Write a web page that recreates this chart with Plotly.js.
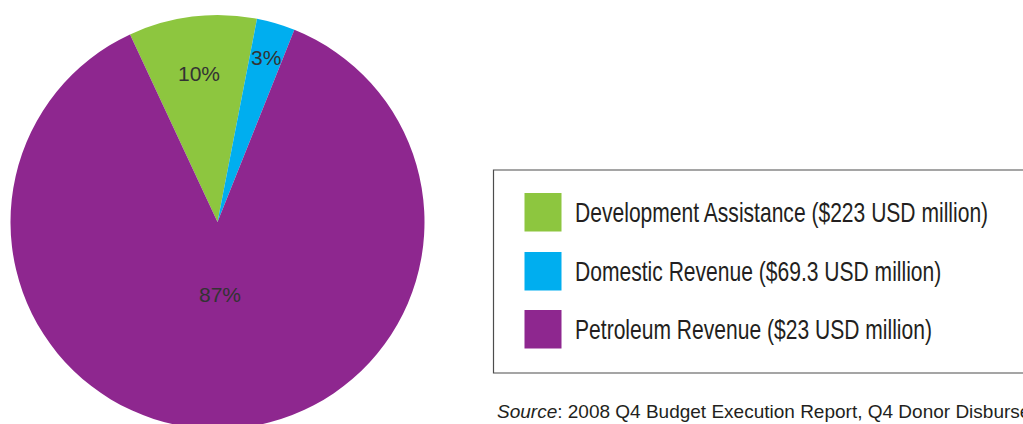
<!DOCTYPE html>
<html>
<head>
<meta charset="utf-8">
<script src="https://cdn.plot.ly/plotly-3.0.1.min.js"></script>
<style>
html,body{margin:0;padding:0;overflow:hidden;background:#fff;}
#chart{width:1023px;height:440px;}
</style>
</head>
<body>
<div id="chart"></div>
<script>
// ---- data ----
const sliceNames = ["Development Assistance", "Domestic Revenue", "Petroleum Revenue"];
const slicePercents = [10, 3, 87];
const legendLabels = [
  "Development Assistance ($223 USD million)",
  "Domestic Revenue ($69.3 USD million)",
  "Petroleum Revenue ($23 USD million)"
];
const sliceColors = ["#8dc63f", "#00aeef", "#8e278f"];
const sourceText = "<i>Source</i>: 2008 Q4 Budget Execution Report, Q4 Donor Disbursement Report";

// ---- layout constants (pixels) ----
const W = 1023, H = 440;
const px = x => x / W;
const py = y => (H - y) / H;
const FONT = "'Liberation Sans', Arial, sans-serif";
const PIE_CX = 217.5, PIE_CY = 222, PIE_R = 207, ROTATION = -25;
const labelRadiusFrac = [0.725, 0.83, 0.35];   // placement of each percent label
const CONDENSE = 0.78;                          // horizontal condensing of legend text

const trace = {
  type: "pie",
  labels: sliceNames,
  values: slicePercents,
  sort: false,
  direction: "clockwise",
  rotation: ROTATION,
  marker: {colors: sliceColors, line: {width: 0}},
  textinfo: "none",
  hoverinfo: "label+percent",
  showlegend: false,
  domain: {x: [px(PIE_CX - PIE_R), px(PIE_CX + PIE_R)], y: [py(PIE_CY + PIE_R), py(PIE_CY - PIE_R)]}
};

const shapes = [{
  type: "rect", xref: "paper", yref: "paper",
  x0: px(493.5), x1: px(1030), y0: py(373), y1: py(170),
  line: {color: "#4d4d4d", width: 1.2}, fillcolor: "rgba(0,0,0,0)"
}];
const annotations = [];

// percent labels placed along each slice's mid-angle
const total = slicePercents.reduce((a, b) => a + b, 0);
let cum = 0;
slicePercents.forEach((v, i) => {
  const mid = (ROTATION + (cum + v / 2) / total * 360) * Math.PI / 180;
  cum += v;
  const rr = PIE_R * labelRadiusFrac[i];
  annotations.push({
    xref: "paper", yref: "paper",
    x: px(PIE_CX + rr * Math.sin(mid)), y: py(PIE_CY - rr * Math.cos(mid)),
    xanchor: "center", yanchor: "middle", showarrow: false,
    text: Math.round(v / total * 100) + "%",
    font: {family: FONT, size: 21, color: "#333333"}
  });
});

// legend: swatches + labels
const swTop = [193, 252, 310];
const legendAnnStart = annotations.length;
legendLabels.forEach((lab, i) => {
  shapes.push({
    type: "rect", xref: "paper", yref: "paper",
    x0: px(524.5), x1: px(561.5), y0: py(swTop[i] + 38.5), y1: py(swTop[i]),
    line: {width: 0}, fillcolor: sliceColors[i]
  });
  annotations.push({
    xref: "paper", yref: "paper", x: px(573), y: py(swTop[i] + 20),
    xanchor: "left", yanchor: "middle", showarrow: false,
    text: lab, font: {family: FONT, size: 27, color: "#231f20"}
  });
});
annotations.push({
  xref: "paper", yref: "paper", x: px(495), y: py(411),
  xanchor: "left", yanchor: "middle", showarrow: false,
  text: sourceText, font: {family: FONT, size: 19, color: "#231f20"}
});

const layout = {
  width: W, height: H,
  margin: {l: 0, r: 0, t: 0, b: 0, pad: 0},
  paper_bgcolor: "#ffffff",
  showlegend: false,
  shapes: shapes,
  annotations: annotations
};

Plotly.newPlot("chart", [trace], layout, {displayModeBar: false, staticPlot: true}).then(gd => {
  // condense the legend labels horizontally (the original uses a condensed typeface)
  for (let i = 0; i < legendLabels.length; i++) {
    const t = gd.querySelector('.annotation[data-index="' + (legendAnnStart + i) + '"] text.annotation-text');
    if (!t) continue;
    const bb = t.getBBox();
    t.setAttribute('transform', 'translate(' + (bb.x * (1 - CONDENSE)).toFixed(2) + ',0) scale(' + CONDENSE + ',1)');
  }
});
</script>
</body>
</html>
